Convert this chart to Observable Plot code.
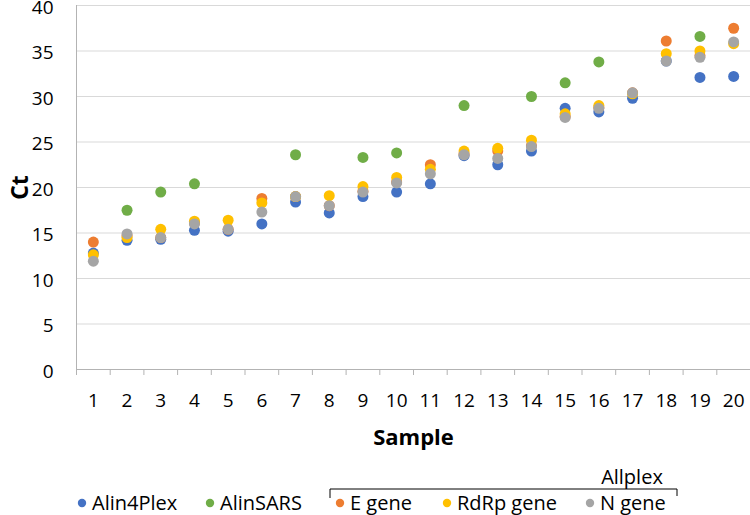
<!DOCTYPE html>
<html>
<head>
<meta charset="utf-8">
<script src="https://cdn.jsdelivr.net/npm/d3@7"></script>
<script src="https://cdn.jsdelivr.net/npm/@observablehq/plot@0.6"></script>
<style>
  body { margin: 0; background: #fff; }
  #wrap { position: relative; width: 750px; height: 515px; overflow: hidden; font-family: "Open Sans", sans-serif; }
  #legend { position: absolute; left: 0; top: 455px; }
</style>
</head>
<body>
<div id="wrap"></div>
<script>
const samples = [1,2,3,4,5,6,7,8,9,10,11,12,13,14,15,16,17,18,19,20];
const alin4plex = [12.8,14.2,14.3,15.3,15.2,16.0,18.4,17.2,19.0,19.5,20.4,23.5,22.5,24.0,28.7,28.3,29.8,33.9,32.1,32.2];
const alinSARS  = [null,17.5,19.5,20.4,null,null,23.6,null,23.3,23.8,null,29.0,null,30.0,31.5,33.8,null,null,36.6,null];
const eGene     = [14.0,14.7,14.5,16.1,15.4,18.8,19.0,18.0,19.6,20.6,22.5,23.7,24.0,24.6,27.8,28.8,30.4,36.1,34.5,37.5];
const rdrpGene  = [12.6,14.5,15.4,16.3,16.4,18.3,19.0,19.1,20.1,21.1,22.0,24.0,24.3,25.2,28.1,29.0,30.3,34.7,35.0,35.8];
const nGene     = [11.9,14.9,14.5,16.0,15.4,17.3,19.0,18.0,19.5,20.5,21.5,23.6,23.2,24.5,27.7,28.7,30.4,33.9,34.3,36.0];
const seriesNames = ["Alin4Plex","AlinSARS","E gene","RdRp gene","N gene"];
const seriesValues = [alin4plex, alinSARS, eGene, rdrpGene, nGene];
const seriesColors = ["#4472C4","#70AD47","#ED7D31","#FFC000","#A5A5A5"];
const yTicks = [0,5,10,15,20,25,30,35,40];
const groupLabel = "Allplex";

const rows = [];
seriesNames.forEach((s, si) => {
  samples.forEach((x, i) => {
    const v = seriesValues[si][i];
    if (v != null) rows.push({series: s, sample: x, ct: v});
  });
});
const boundaries = [0, ...samples].map(d => d + 0.5);

const font = "'Open Sans', sans-serif";
const chart = Plot.plot({
  width: 750,
  height: 420,
  marginLeft: 76,
  marginRight: 0,
  marginTop: 5,
  marginBottom: 51,
  style: {fontFamily: font, fontSize: "19px", color: "#000", background: "#fff", overflow: "visible"},
  x: {type: "linear", domain: [0.5, 20.5]},
  y: {domain: [0, 40]},
  color: {domain: seriesNames, range: seriesColors},
  marks: [
    Plot.gridY(yTicks.filter(d => d > 0), {stroke: "#d9d9d9", strokeOpacity: 1, strokeWidth: 1}),
    Plot.ruleX([0.5], {stroke: "#b3b3b3", strokeWidth: 1}),
    Plot.ruleY([0], {stroke: "#b3b3b3", strokeWidth: 1}),
    Plot.axisX({ticks: boundaries, tickSize: 6, stroke: "#b3b3b3", text: null, label: null}),
    Plot.axisX({ticks: samples, tickSize: 0, tickPadding: 24, tickFormat: d => String(d), label: null, fill: "#000"}),
    Plot.axisY({ticks: yTicks, tickSize: 0, tickPadding: 23, label: null, fill: "#000", dy: 2}),
    Plot.dot(rows, {x: "sample", y: "ct", fill: "series", r: 5.5, stroke: null}),
    Plot.text(["Sample"], {text: d => d, fontWeight: "bold", fontSize: 22, fill: "#000", x: 10.5, y: 0, dy: 68}),
    Plot.text(["Ct"], {x: 0.5, y: 20, dx: -56, dy: 0, text: d => d, rotate: -90, fontWeight: "bold", fontSize: 23, fill: "#000"})
  ]
});
document.getElementById("wrap").appendChild(chart);

// legend
const legendX = [82, 210, 340, 447, 590];
const legend = d3.create("svg").attr("id", "legend").attr("width", 750).attr("height", 60)
  .style("font-family", font);
const g = legend.selectAll("g").data(seriesNames).join("g")
  .attr("transform", (d, i) => `translate(${legendX[i]},48)`);
g.append("circle").attr("r", 4.2).attr("fill", (d, i) => seriesColors[i]);
g.append("text").attr("x", 10).attr("dy", "0.35em").attr("font-size", 20).attr("fill", "#000").text(d => d);
legend.append("path").attr("d", "M330,43V34H677V41").attr("fill", "none").attr("stroke", "#000").attr("stroke-width", 1);
legend.append("text").attr("x", 632).attr("y", 22).attr("dy", "0.35em").attr("text-anchor", "middle")
  .attr("font-size", 20).attr("fill", "#000").text(groupLabel);
document.getElementById("wrap").appendChild(legend.node());
</script>
</body>
</html>
